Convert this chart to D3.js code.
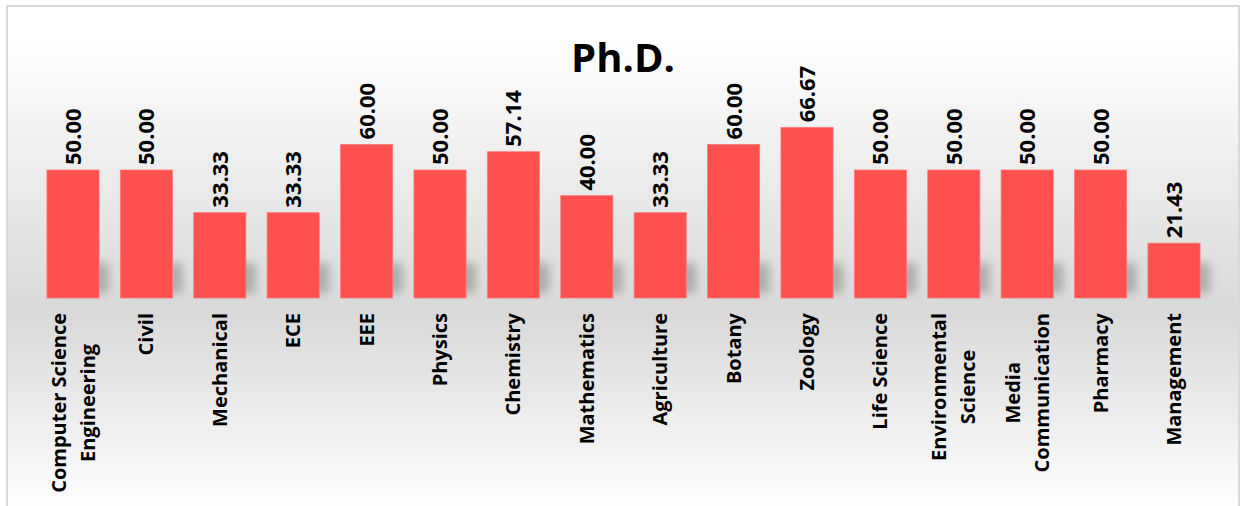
<!DOCTYPE html>
<html>
<head>
<meta charset="utf-8">
<script src="https://cdn.jsdelivr.net/npm/d3@7"></script>
<style>
  body { margin: 0; background: #fff; }
  svg { display: block; font-family: "Open Sans", sans-serif; }
</style>
</head>
<body>
<svg id="chart" width="1242" height="506"></svg>
<script>
// data
var categories = ["Computer Science|Engineering", "Civil", "Mechanical", "ECE", "EEE", "Physics",
  "Chemistry", "Mathematics", "Agriculture", "Botany", "Zoology", "Life Science",
  "Environmental|Science", "Media|Communication", "Pharmacy", "Management"];
var values = [50.00, 50.00, 33.33, 33.33, 60.00, 50.00, 57.14, 40.00, 33.33, 60.00, 66.67, 50.00,
  50.00, 50.00, 50.00, 21.43];
var title = "Ph.D.";

var W = 1242, H = 506;
var svg = d3.select("#chart");
var defs = svg.append("defs");

var bg = defs.append("linearGradient")
  .attr("id", "bg").attr("x1", 0).attr("y1", 0).attr("x2", 0).attr("y2", 1);
bg.append("stop").attr("offset", 0.06).attr("stop-color", "#ffffff");
bg.append("stop").attr("offset", 0.59).attr("stop-color", "#d9d9d9");
bg.append("stop").attr("offset", 0.97).attr("stop-color", "#ffffff");

defs.append("filter").attr("id", "blur")
  .attr("x", "-50%").attr("y", "-50%").attr("width", "200%").attr("height", "200%")
  .append("feGaussianBlur").attr("stdDeviation", 5);

// chart frame
svg.append("rect")
  .attr("x", 7).attr("y", 6).attr("width", 1232).attr("height", 520)
  .attr("fill", "url(#bg)")
  .attr("stroke", "#d9d9d9").attr("stroke-width", 2);

var baseY = 298;
var x = d3.scaleBand().domain(d3.range(categories.length))
  .range([36.3, 1210.7]).paddingInner(0.29).paddingOuter(0.145);
var y = d3.scaleLinear().domain([0, 50]).range([baseY, 170]);

// floor shadows
svg.append("g").attr("filter", "url(#blur)")
  .selectAll("rect").data(values).join("rect")
  .attr("x", (d, i) => x(i) + 8)
  .attr("y", d => Math.max(y(d), baseY - 30) - 5)
  .attr("width", x.bandwidth() + 2)
  .attr("height", d => baseY - Math.max(y(d), baseY - 30))
  .attr("fill", "#8c8c8c").attr("opacity", 0.6);

// bars
svg.append("g").selectAll("rect").data(values).join("rect")
  .attr("x", (d, i) => x(i))
  .attr("y", d => y(d))
  .attr("width", x.bandwidth())
  .attr("height", d => baseY - y(d))
  .attr("fill", "#ff5050")
  .attr("stroke", "#ff7a7a").attr("stroke-width", 0.8);

// value labels
svg.append("g").selectAll("text").data(values).join("text")
  .attr("transform", (d, i) => "translate(" + (x(i) + x.bandwidth() / 2 + 8) + "," + (y(d) - 5) + ") rotate(-90)")
  .attr("font-size", 22).attr("font-weight", "bold").attr("fill", "#000")
  .text(d => d.toFixed(2));

// category labels
var lab = svg.append("g").selectAll("g").data(categories).join("g");
lab.each(function (c, i) {
  var lines = c.split("|");
  var g = d3.select(this);
  var cx = x(i) + x.bandwidth() / 2;
  var ts = lines.map(function (t, k) {
    return g.append("text")
      .attr("font-size", 20).attr("font-weight", "bold").attr("fill", "#000")
      .attr("text-anchor", "middle")
      .text(t);
  });
  var maxLen = d3.max(ts, t => t.node().getComputedTextLength());
  var lh = 29;
  ts.forEach(function (t, k) {
    var off = (k - (lines.length - 1) / 2) * lh;
    t.attr("transform", "translate(" + (cx + off + 7) + "," + (313 + maxLen / 2) + ") rotate(-90)");
  });
});

// title
svg.append("text")
  .attr("x", 623).attr("y", 72)
  .attr("text-anchor", "middle")
  .attr("font-size", 40).attr("font-weight", "bold").attr("fill", "#000")
  .text(title);
</script>
</body>
</html>
